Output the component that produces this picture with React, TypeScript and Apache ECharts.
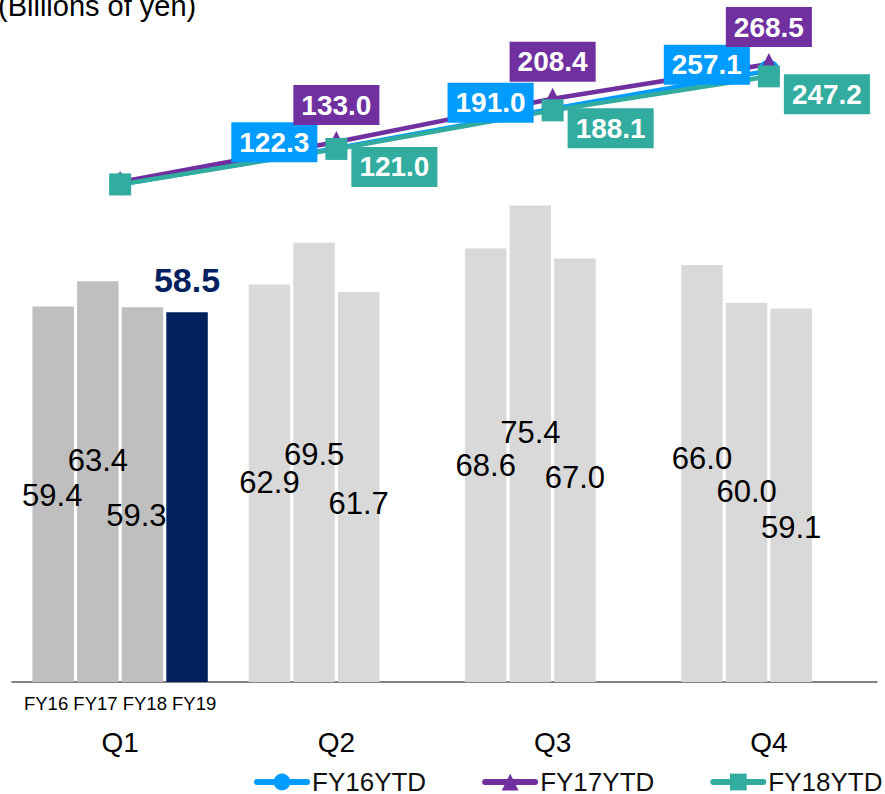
import React, { useEffect, useRef } from "react";
import * as echarts from "echarts";

const quarters = ["Q1", "Q2", "Q3", "Q4"];
const fyNames = ["FY16", "FY17", "FY18", "FY19"];
const fy16 = [59.4, 62.9, 68.6, 66.0];
const fy17 = [63.4, 69.5, 75.4, 60.0];
const fy18 = [59.3, 61.7, 67.0, 59.1];
const fy19 = [58.5, null, null, null];

const ytdNames = ["FY16YTD", "FY17YTD", "FY18YTD"];
const fy16ytd = [59.4, 122.3, 191.0, 257.1];
const fy17ytd = [63.4, 133.0, 208.4, 268.5];
const fy18ytd = [59.3, 121.0, 188.1, 247.2];

// label layout offsets (pixels) for the in-bar value labels, per series then quarter
const labelOffsets = [
  [[-1, 1], [0, -1], [0, 0], [0, -15]],
  [[0, -21], [0, -8], [0, -11], [0, -1]],
  [[-6, 21], [0, 16], [0, 7], [0, 32]],
];

const FONT = "'Liberation Sans', Arial, sans-serif";
const BLUE = "#009BFF";
const PURPLE = "#7030A0";
const TEAL = "#32AC9F";
const NAVY = "#00205E";

export default function App() {
  const ref = useRef<HTMLDivElement>(null);
  useEffect(() => {
    if (!ref.current) return;
    const chart = echarts.init(ref.current, undefined, { renderer: "svg" });

    const barSeries = (name: string, values: (number | null)[], idx: number) => ({
      name,
      type: "bar",
      xAxisIndex: 0,
      yAxisIndex: 0,
      barWidth: 41.5,
      barGap: "7.5%",
      data: values.map((v, qi) => ({
        value: v,
        itemStyle: { color: qi === 0 ? "#BFBFBF" : "#D9D9D9" },
        label: {
          show: v !== null,
          position: "inside",
          offset: labelOffsets[idx][qi],
          formatter: (p: any) => Number(p.value).toFixed(1),
          color: "#000",
          fontSize: 31,
          fontFamily: FONT,
        },
      })),
    });

    const lineSeries = (
      name: string,
      values: number[],
      color: string,
      symbol: string,
      label: any
    ) => ({
      name,
      type: "line",
      xAxisIndex: 0,
      yAxisIndex: 1,
      symbol,
      symbolSize: 22,
      lineStyle: { color, width: 4.5 },
      itemStyle: { color },
      data: values.map((v, qi) => ({
        value: v,
        label: {
          show: qi > 0,
          ...label,
          formatter: (p: any) => Number(p.value).toFixed(1),
          color: "#fff",
          fontWeight: "bold",
          fontSize: 28,
          lineHeight: 30,
          fontFamily: FONT,
          backgroundColor: color,
          padding: [5, 8],
        },
      })),
    });

    const option: any = {
      animation: false,
      grid: { left: 12, right: 8, top: 18.4, bottom: 112, containLabel: false },
      graphic: [
        {
          type: "text",
          left: -2,
          top: -9,
          style: {
            text: "(Billions of yen)",
            fontSize: 29,
            fontFamily: FONT,
            fill: "#000",
          },
        },
      ],
      legend: {
        data: ytdNames,
        left: 254,
        top: 767,
        width: 660,
        padding: 0,
        itemWidth: 50,
        itemHeight: 21,
        itemGap: 56,
        lineStyle: { width: 6, cap: "round" },
        textStyle: { fontSize: 26, lineHeight: 30, color: "#111", fontFamily: FONT },
      },
      xAxis: [
        {
          type: "category",
          data: quarters,
          axisLine: { lineStyle: { color: "#595959", width: 1.5 } },
          axisTick: { inside: true, length: 9, lineStyle: { color: "#595959", width: 1.5 } },
          axisLabel: {
            margin: 6,
            interval: 0,
            formatter: (v: string, i: number) =>
              i === 0 ? `{s|${fyNames.join(" ")}}\n{q|${v}}` : `{s| }\n{q|${v}}`,
            rich: {
              s: { fontSize: 18.5, lineHeight: 30, color: "#000", fontFamily: FONT },
              q: { fontSize: 28, lineHeight: 48, color: "#000", fontFamily: FONT },
            },
          },
        },
      ],
      yAxis: [
        { type: "value", min: 0, max: 105, show: false, splitLine: { show: false } },
        { type: "value", min: -806, max: 348, show: false, splitLine: { show: false } },
      ],
      series: [
        barSeries(fyNames[0], fy16, 0),
        barSeries(fyNames[1], fy17, 1),
        barSeries(fyNames[2], fy18, 2),
        {
          name: fyNames[3],
          type: "bar",
          barWidth: 41.5,
          barGap: "7.5%",
          itemStyle: { color: NAVY },
          data: fy19,
          label: {
            show: true,
            position: "top",
            distance: 15,
            formatter: (p: any) => (p.value == null ? "" : Number(p.value).toFixed(1)),
            color: NAVY,
            fontWeight: "bold",
            fontSize: 34,
            lineHeight: 34,
            fontFamily: FONT,
          },
        },
        lineSeries(ytdNames[0], fy16ytd, BLUE, "circle", { position: "left", distance: 8, offset: [0, -6] }),
        lineSeries(ytdNames[1], fy17ytd, PURPLE, "triangle", { position: "top", distance: 6 }),
        lineSeries(ytdNames[2], fy18ytd, TEAL, "rect", { position: "right", distance: 4, offset: [0, 18] }),
      ],
    };
    chart.setOption(option);
    return () => chart.dispose();
  }, []);
  return (
    <div
      ref={ref}
      style={{ position: "fixed", left: 0, top: 0, width: 885, height: 794, background: "#fff" }}
    />
  );
}
